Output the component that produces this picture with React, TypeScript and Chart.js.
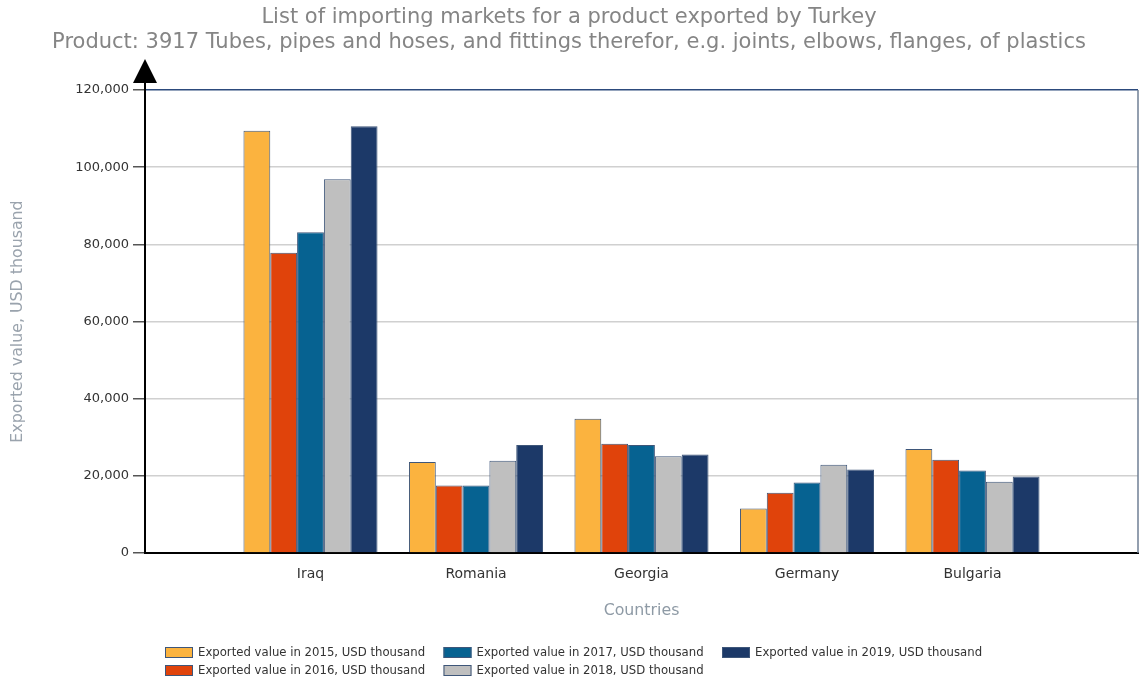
import React, { useEffect, useRef } from "react";
import { Chart, registerables } from "chart.js";

Chart.register(...registerables);

const titleLines = [
  "List of importing markets for a product exported by Turkey",
  "Product: 3917 Tubes, pipes and hoses, and fittings therefor, e.g. joints, elbows, flanges, of plastics",
];
const categories = ["", "Iraq", "Romania", "Georgia", "Germany", "Bulgaria", ""];
const seriesNames = [
  "Exported value in 2015, USD thousand",
  "Exported value in 2016, USD thousand",
  "Exported value in 2017, USD thousand",
  "Exported value in 2018, USD thousand",
  "Exported value in 2019, USD thousand",
];
const values2015 = [null, 109450, 23600, 34800, 11560, 26950];
const values2016 = [null, 77800, 17500, 28300, 15630, 24180];
const values2017 = [null, 83100, 17500, 28000, 18300, 21400];
const values2018 = [null, 96900, 23900, 25050, 22900, 18480];
const values2019 = [null, 110600, 28000, 25550, 21670, 19850];
const yTicks = [0, 20000, 40000, 60000, 80000, 100000, 120000];
const xAxisTitle = "Countries";
const yAxisTitle = "Exported value, USD thousand";

const colors = ["#FBB33F", "#E0430B", "#066291", "#BFBFBF", "#1C3968"];
const FONT = '"DejaVu Sans", "Liberation Sans", sans-serif';

const decorPlugin = {
  id: "decor",
  afterDraw(chart: any) {
    const { ctx, chartArea } = chart;
    const { left, right, top, bottom } = chartArea;
    ctx.save();
    // right border
    ctx.strokeStyle = "#6f7f95";
    ctx.lineWidth = 1.5;
    ctx.beginPath();
    ctx.moveTo(right, top);
    ctx.lineTo(right, bottom);
    ctx.stroke();
    // axis extension + arrow
    ctx.strokeStyle = "#000";
    ctx.lineWidth = 2;
    ctx.beginPath();
    ctx.moveTo(left, top);
    ctx.lineTo(left, top - 8);
    ctx.stroke();
    ctx.fillStyle = "#000";
    ctx.beginPath();
    ctx.moveTo(left, top - 31);
    ctx.lineTo(left - 12, top - 7);
    ctx.lineTo(left + 12, top - 7);
    ctx.closePath();
    ctx.fill();

    // legend (column-major)
    const perCol = 2;
    const colW = 278.5;
    const rowH = 18;
    const x0 = 165;
    const y0 = 652.5;
    ctx.font = `11.7px ${FONT}`;
    ctx.textBaseline = "middle";
    ctx.textAlign = "left";
    chart.data.datasets.forEach((ds: any, i: number) => {
      const col = Math.floor(i / perCol);
      const row = i % perCol;
      const bx = x0 + col * colW;
      const by = y0 + row * rowH;
      ctx.fillStyle = ds.backgroundColor;
      ctx.fillRect(bx, by - 5.5, 28, 11);
      ctx.strokeStyle = "#3e5679";
      ctx.lineWidth = 1;
      ctx.strokeRect(bx + 0.5, by - 5.5 + 0.5, 27, 10);
      ctx.fillStyle = "#333";
      ctx.fillText(ds.label, bx + 33, by + 0.5);
    });
    ctx.restore();
  },
};

export default function App() {
  const ref = useRef<HTMLCanvasElement | null>(null);
  useEffect(() => {
    document.body.style.margin = "0";
    const canvas = ref.current!;
    const allSeries = [values2015, values2016, values2017, values2018, values2019];
    const chart = new Chart(canvas, {
      type: "bar",
      data: {
        labels: categories,
        datasets: allSeries.map((vals, i) => ({
          label: seriesNames[i],
          data: vals,
          backgroundColor: colors[i],
          borderColor: "#3e5679",
          borderWidth: 1,
          barPercentage: 1,
          categoryPercentage: 0.81,
        })),
      },
      options: {
        animation: false,
        responsive: false,
        layout: { padding: { left: 0, right: 2, top: 0, bottom: 52 } },
        plugins: {
          legend: { display: false },
          tooltip: { enabled: false },
          title: {
            display: true,
            text: titleLines,
            color: "#858585",
            font: { family: FONT, size: 21, weight: "normal", lineHeight: 25 / 21 },
            padding: { top: 5.5, bottom: 34.5 },
          },
        },
        scales: {
          x: {
            type: "category",
            offset: false,
            grid: { display: false, drawTicks: false },
            border: { display: true, color: "#000", width: 2 },
            ticks: {
              color: "#333",
              font: { family: FONT, size: 14 },
              padding: 13,
              maxRotation: 0,
              autoSkip: false,
            },
            title: {
              display: true,
              text: xAxisTitle,
              color: "#8e9aa5",
              font: { family: FONT, size: 15.8 },
              padding: { top: 0, bottom: 10 },
            },
            afterFit: (s: any) => {
              s.height = 77;
              s.paddingLeft = 0;
              s.paddingRight = 0;
            },
          },
          y: {
            min: 0,
            max: 120000,
            afterBuildTicks: (s: any) => {
              s.ticks = yTicks.map((v) => ({ value: v }));
            },
            grid: {
              color: (c: any) =>
                c.tick && c.tick.value === 120000
                  ? "#2c4a7c"
                  : c.tick && c.tick.value === 0
                  ? "rgba(0,0,0,0)"
                  : "#d0d0d0",
              lineWidth: 1.5,
              tickColor: "#555",
              tickLength: 12,
              drawTicks: true,
            },
            border: { display: true, color: "#000", width: 2 },
            ticks: {
              color: "#333",
              font: { family: FONT, size: 13 },
              padding: 4,
              callback: (v: any) => Number(v).toLocaleString("en-US"),
            },
            title: {
              display: true,
              text: yAxisTitle,
              color: "#9aa3ad",
              font: { family: FONT, size: 15.8 },
              padding: { top: 8.5, bottom: 0 },
            },
            afterFit: (s: any) => {
              s.width = 145;
            },
          },
        },
      },
      plugins: [decorPlugin],
    });
    return () => chart.destroy();
  }, []);
  return (
    <div style={{ width: 1140, height: 682 }}>
      <canvas ref={ref} width={1140} height={682} style={{ width: 1140, height: 682 }} />
    </div>
  );
}
